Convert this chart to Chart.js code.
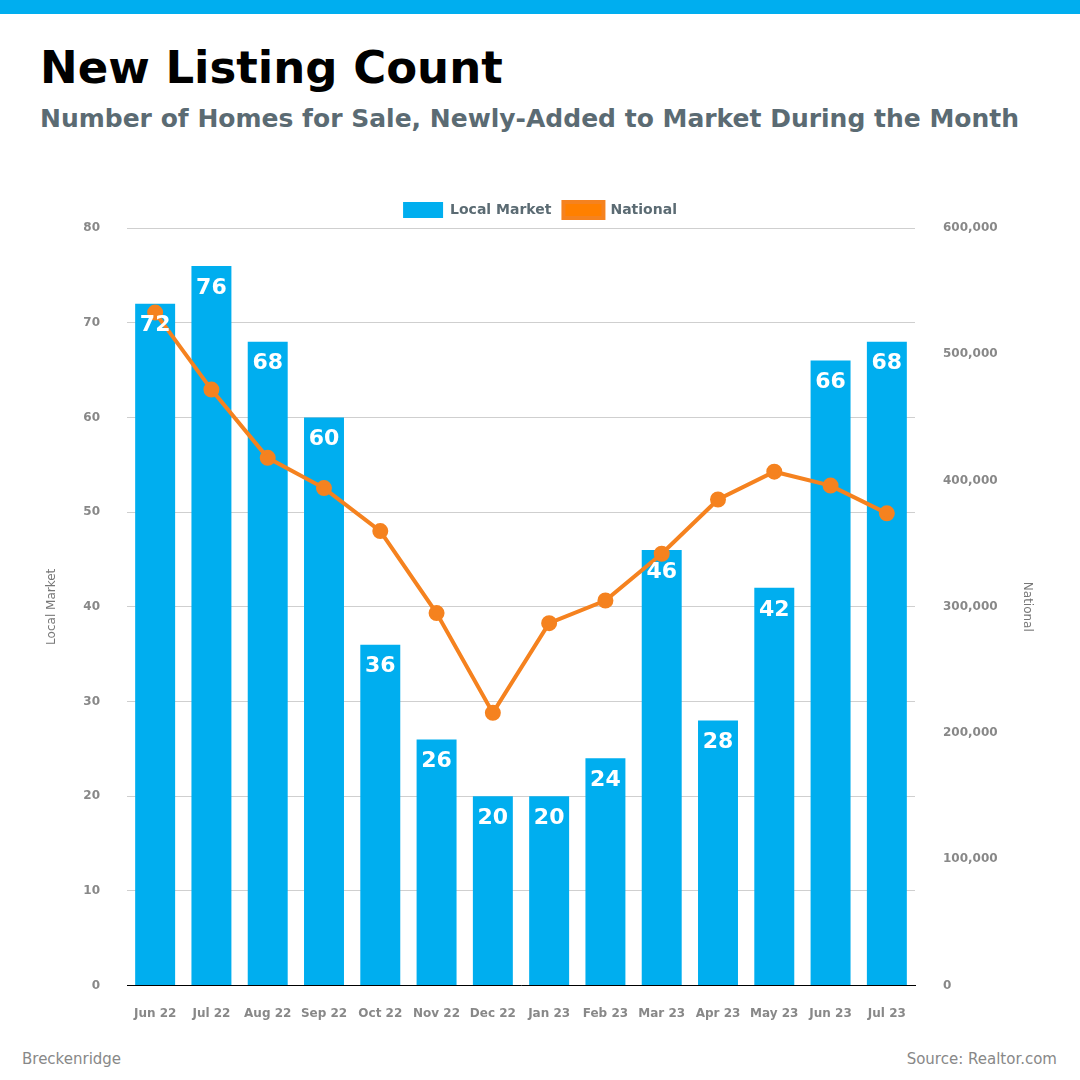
<!DOCTYPE html>
<html>
<head>
<meta charset="utf-8">
<script src="https://cdn.jsdelivr.net/npm/chart.js@4/dist/chart.umd.min.js"></script>
<style>
  html, body { margin: 0; padding: 0; background: #fff; }
  body { width: 1080px; height: 1080px; position: relative; overflow: hidden; font-family: "DejaVu Sans", sans-serif; }
  #topbar { position: absolute; left: 0; top: 0; width: 1080px; height: 14px; background: #00aeef; }
  h1 { position: absolute; left: 40px; top: 41px; margin: 0; font-size: 45px; font-weight: bold; color: #000; }
  h2 { position: absolute; left: 40px; top: 104px; margin: 0; font-size: 25px; font-weight: bold; color: #5b6b73; }
  #wrap { position: absolute; left: 0; top: 190px; width: 1080px; height: 854px; }
  .foot { position: absolute; top: 1050px; font-size: 15px; color: #888; }
</style>
</head>
<body>
<div id="topbar"></div>
<h1>New Listing Count</h1>
<h2>Number of Homes for Sale, Newly-Added to Market During the Month</h2>
<div id="wrap"><canvas id="myChart"></canvas></div>
<div class="foot" style="left:22px">Breckenridge</div>
<div class="foot" style="right:23px">Source: Realtor.com</div>
<script>
"use strict";

const months = ["Jun 22","Jul 22","Aug 22","Sep 22","Oct 22","Nov 22","Dec 22",
                "Jan 23","Feb 23","Mar 23","Apr 23","May 23","Jun 23","Jul 23"];
const local_market = [72,76,68,60,36,26,20,20,24,46,28,42,66,68];
const national = [533000,472000,418000,394000,360000,295000,216000,
                  287000,305000,342000,385000,407000,396000,374000];

// white value labels inside the top of each bar, drawn over the line
const barLabels = {
    id: "barLabels",
    afterDatasetsDraw(chart){
        const ctx = chart.ctx;
        const meta = chart.getDatasetMeta(0);
        ctx.save();
        ctx.fillStyle = "#fff";
        ctx.font = "bold 22px 'DejaVu Sans'";
        ctx.textAlign = "center";
        ctx.textBaseline = "middle";
        meta.data.forEach((bar, i) => {
            ctx.fillText(String(local_market[i]), bar.x, bar.y + 22);
        });
        ctx.restore();
    }
};

const tickFont = {family: "DejaVu Sans", size: 12, weight: "bold"};

const ctx = document.getElementById("myChart").getContext("2d");
const myChart = new Chart(ctx, {
    type: "bar",
    data: {
        labels: months,
        datasets: [{
            label: "Local Market",
            data: local_market,
            backgroundColor: "#00aeef",
            yAxisID: "y",
            categoryPercentage: 1.0,
            barPercentage: 0.71,
            order: 2
        },{
            type: "line",
            label: "National",
            data: national,
            borderColor: "#f5821f",
            backgroundColor: "#ff8000",
            pointBackgroundColor: "#f5821f",
            pointBorderColor: "#f5821f",
            borderWidth: 4,
            pointRadius: 6,
            yAxisID: "y2",
            order: 1
        }]
    },
    options: {
        responsive: true,
        maintainAspectRatio: false,
        animation: false,
        layout: {padding: {left: 36, right: 36, top: 0, bottom: 10}},
        plugins: {
            legend: {
                labels: {
                    boxWidth: 40, boxHeight: 16,
                    color: "#5b6b73",
                    font: {family: "DejaVu Sans", size: 14, weight: "bold"},
                    padding: 12,
                    sort: (a, b) => a.datasetIndex - b.datasetIndex
                }
            },
            tooltip: {enabled: false}
        },
        scales: {
            x: {
                grid: {display: false},
                border: {color: "#000", width: 1},
                ticks: {color: "#888", font: tickFont, padding: 13, maxRotation: 0}
            },
            y: {
                position: "left",
                min: 0, max: 80,
                ticks: {stepSize: 10, color: "#888", font: tickFont, padding: 27},
                grid: {color: "#cfcfcf", drawTicks: false},
                border: {display: false},
                title: {display: true, text: "Local Market", color: "#777", padding: 9,
                        font: {family: "DejaVu Sans", size: 12}},
                afterFit(scale){ scale.width = 91; }
            },
            y2: {
                position: "right",
                min: 0, max: 600000,
                ticks: {stepSize: 100000, color: "#888", font: tickFont, padding: 28,
                        callback: v => v.toLocaleString("en-US")},
                grid: {display: false, drawTicks: false},
                border: {display: false},
                title: {display: true, text: "National", color: "#777", padding: 10,
                        font: {family: "DejaVu Sans", size: 12}},
                afterFit(scale){ scale.width = 129; }
            }
        }
    },
    plugins: [barLabels]
});
</script>
</body>
</html>
